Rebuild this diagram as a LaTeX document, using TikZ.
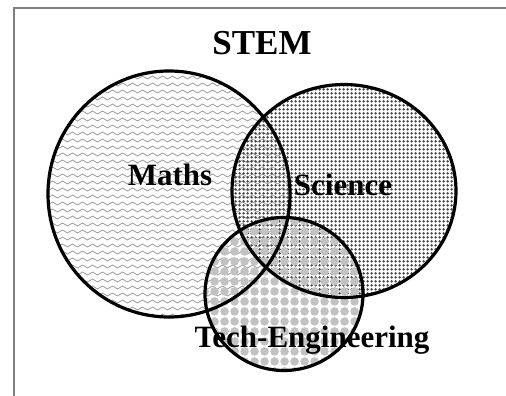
\documentclass[tikz,border=0pt]{standalone}
\usepackage{fontspec}
\setmainfont{Liberation Serif}
\usetikzlibrary{patterns,shapes.geometric}

% fill patterns for the three sets
\pgfdeclarepatternformonly{wavelines}{\pgfpoint{-1pt}{-1pt}}{\pgfpoint{11pt}{8pt}}{\pgfpoint{10pt}{7pt}}{%
  \pgfsetlinewidth{0.8pt}
  \pgfpathmoveto{\pgfpoint{0pt}{3.5pt}}
  \pgfpathcurveto{\pgfpoint{1.7pt}{5.5pt}}{\pgfpoint{3.3pt}{5.5pt}}{\pgfpoint{5pt}{3.5pt}}
  \pgfpathcurveto{\pgfpoint{6.7pt}{1.5pt}}{\pgfpoint{8.3pt}{1.5pt}}{\pgfpoint{10pt}{3.5pt}}
  \pgfusepath{stroke}}
\pgfdeclarepatternformonly{smalldots}{\pgfpoint{0pt}{0pt}}{\pgfpoint{3.6pt}{3.6pt}}{\pgfpoint{3.6pt}{3.6pt}}{%
  \pgfpathcircle{\pgfpoint{1.8pt}{1.8pt}}{1.45pt}\pgfusepath{fill}}
\pgfdeclarepatternformonly{bubbles}{\pgfpoint{0pt}{0pt}}{\pgfpoint{10pt}{10pt}}{\pgfpoint{10pt}{10pt}}{%
  \pgfpathcircle{\pgfpoint{5pt}{5pt}}{4.7pt}\pgfusepath{fill}}

\begin{document}
\begin{tikzpicture}[x=1pt, y=-1pt,
    mathsshape/.style={ellipse, inner sep=0, outer sep=0, minimum width=242, minimum height=246},
    scienceshape/.style={ellipse, inner sep=0, outer sep=0, minimum width=224, minimum height=213},
    techshape/.style={ellipse, inner sep=0, outer sep=0, minimum width=158, minimum height=153},
    ring/.style={draw=black, line width=3.2},
    setlabel/.style={inner sep=0, anchor=base, font=\bfseries\fontsize{31}{31}\selectfont}]
  \useasboundingbox (0,0) rectangle (506,396);
  \draw[gray, line width=2] (14,396) -- (14,8) -- (506,8);

  \path (169,194) node [mathsshape, pattern=wavelines, pattern color=black!38] (maths) {}
        (344,191) node [scienceshape, pattern=smalldots, pattern color=black!72] (science) {}
        (284,294) node [techshape, pattern=bubbles, pattern color=black!24] (tech) {}
  ;
  \path (maths.center) node [mathsshape, ring] {}
        (science.center) node [scienceshape, ring] {}
        (tech.center) node [techshape, ring] {}
  ;

  \node [inner sep=0, anchor=base, font=\bfseries\fontsize{35}{35}\selectfont] (stem) at (262,55) {STEM};
  \node [setlabel] (mathstext) at (170,185) {Maths};
  \node [setlabel] (sciencetext) at (343,195) {Science};
  \node [setlabel] (techtext) at (312,347) {Tech-Engineering};
\end{tikzpicture}
\end{document}
